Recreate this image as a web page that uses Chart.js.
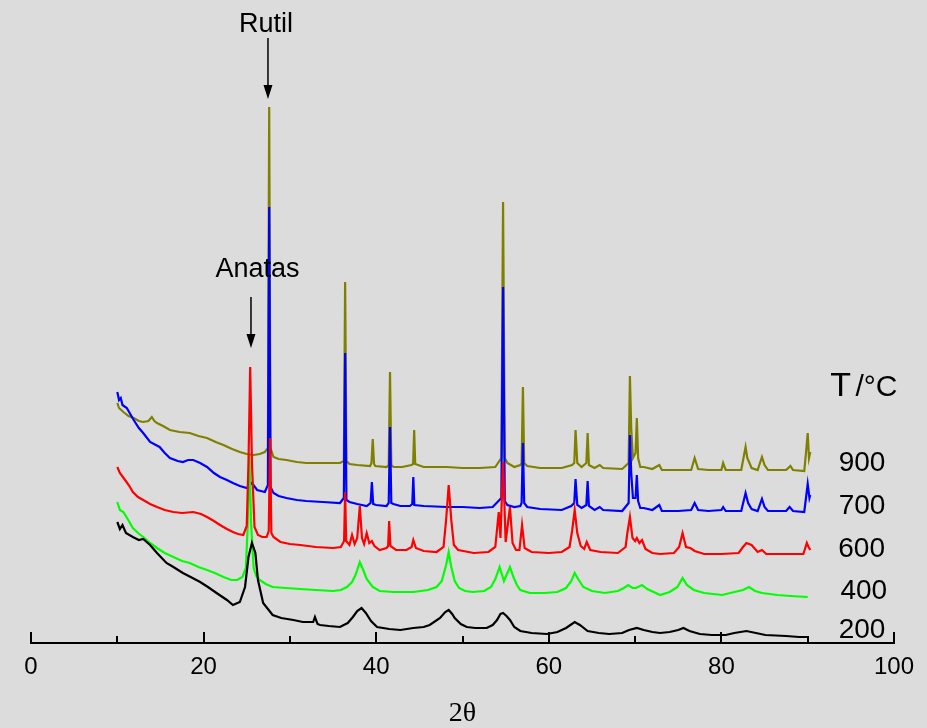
<!DOCTYPE html>
<html>
<head>
<meta charset="utf-8">
<title>XRD TiO2</title>
<script src="https://cdn.jsdelivr.net/npm/chart.js@4.4.0/dist/chart.umd.min.js"></script>
<style>
  html, body { margin: 0; padding: 0; background: #dcdcdc; }
  #wrap { width: 927px; height: 728px; }
</style>
</head>
<body>
<div id="wrap"><canvas id="xrd"></canvas></div>
<script>
// [2theta, intensity], one array per calcination temperature
var s200 = [[10.0,121],[10.3,114],[10.6,118],[11.0,110],[11.8,106],[12.5,103],[13.0,104],[13.8,98],[14.6,90],[15.7,80],[16.5,76],[17.6,70],[18.5,66],[19.6,61],[20.5,56],[21.5,50],[22.7,43],[23.4,38],[24.2,41],[24.8,56],[25.2,86],[25.6,100],[26.0,90],[26.3,63],[26.9,40],[28.0,28],[29.0,25],[30.4,23],[31.5,21],[32.7,21],[32.9,26],[33.2,19],[33.5,18],[34.5,17],[35.8,16],[36.7,20],[37.3,26],[37.8,32],[38.3,35],[38.8,30],[39.4,22],[40.1,16],[41.5,14],[42.8,13],[44.3,15],[45.5,16],[46.2,18],[47.4,25],[48.0,31],[48.4,33],[48.8,29],[49.1,25],[49.8,19],[50.5,16],[51.5,15],[52.8,15],[53.5,18],[54.0,23],[54.4,29],[54.7,30],[55.1,27],[55.5,23],[56.0,16],[56.7,12],[58.0,10],[59.8,9],[61.0,11],[62.0,15],[63.0,21],[63.6,18],[64.5,12],[65.8,10],[67.0,9],[68.5,10],[69.3,13],[70.2,15],[71.0,13],[72.0,11],[72.9,10],[74.0,11],[75.0,13],[75.6,15],[76.3,12],[77.5,9],[78.9,8],[80.5,8],[81.5,10],[82.9,12],[84.0,10],[85.1,8],[87.5,7],[89.0,6],[90.0,6]];

var s400 = [[10.0,141],[10.3,133],[10.7,131],[11.2,124],[11.8,115],[12.4,110],[13.0,106],[13.8,100],[14.6,95],[15.5,90],[16.5,86],[17.5,82],[18.4,80],[19.4,76],[20.4,73],[21.3,70],[22.3,66],[23.2,63],[23.9,63],[24.5,66],[24.9,75],[25.1,115],[25.3,188],[25.5,120],[25.8,75],[26.1,67],[26.5,63],[27.2,59],[28.0,56],[29.5,55],[31.2,54],[33.0,53],[35.0,52],[35.9,53],[36.6,56],[37.2,61],[37.6,68],[38.1,81],[38.5,73],[38.9,64],[39.6,56],[40.4,52],[42.0,51],[44.3,51],[46.0,53],[47.0,56],[47.6,62],[48.1,78],[48.4,91],[48.7,76],[49.1,62],[49.6,55],[50.3,52],[51.2,51],[52.5,52],[53.3,56],[53.8,64],[54.3,76],[54.8,62],[55.1,68],[55.5,76],[55.9,66],[56.3,58],[56.7,53],[57.8,50],[59.5,50],[61.0,51],[62.0,55],[62.6,62],[63.0,70],[63.4,64],[64.0,56],[65.0,52],[66.5,50],[68.0,52],[68.7,55],[69.2,58],[69.7,55],[70.1,55],[70.8,58],[71.4,54],[72.9,48],[74.0,51],[74.9,56],[75.5,65],[76.0,58],[76.8,53],[78.0,50],[80.1,48],[81.5,51],[82.5,53],[83.2,56],[83.9,52],[84.7,50],[86.5,48],[88.0,47],[90.0,46]];

var s600 = [[10.0,176],[10.3,170],[10.9,163],[11.4,157],[11.8,151],[12.4,146],[13.0,143],[13.8,139],[14.6,136],[15.5,133],[16.5,131],[17.5,130],[18.8,131],[19.7,129],[20.4,126],[21.2,122],[21.9,118],[22.7,114],[23.4,111],[24.0,109],[24.6,108],[25.0,117],[25.2,180],[25.4,276],[25.6,180],[25.9,116],[26.3,108],[26.8,106],[27.3,106],[27.55,112],[27.7,205],[27.85,110],[28.1,106],[28.9,101],[30.0,99],[31.2,98],[33.0,96],[35.0,95],[35.9,96],[36.28,102],[36.4,151],[36.52,102],[36.9,98],[37.2,108],[37.5,99],[37.8,105],[38.1,137],[38.35,105],[38.6,99],[38.9,110],[39.2,100],[39.5,102],[39.8,97],[40.4,93],[41.2,95],[41.38,97],[41.5,122],[41.65,97],[42.3,93],[43.5,93],[44.1,96],[44.3,103],[44.6,95],[45.5,92],[47.0,91],[47.8,96],[48.1,123],[48.4,158],[48.7,123],[49.0,98],[49.5,93],[51.3,90],[53.0,91],[53.8,96],[54.2,131],[54.4,105],[54.7,181],[55.0,101],[55.5,136],[55.8,100],[56.2,93],[56.6,93],[56.9,118],[57.2,95],[58.0,91],[60.0,90],[61.5,91],[62.4,96],[62.7,112],[63.0,133],[63.3,110],[63.7,97],[64.1,94],[64.4,101],[64.8,93],[66.0,91],[68.0,90],[68.9,96],[69.1,110],[69.4,126],[69.7,105],[70.0,102],[70.2,105],[70.5,100],[70.8,103],[71.2,94],[72.0,90],[72.9,89],[74.5,90],[75.1,96],[75.5,110],[75.9,96],[76.4,95],[76.9,92],[78.0,89],[80.0,89],[82.0,90],[82.5,96],[82.9,100],[83.5,98],[84.2,91],[84.7,93],[85.2,89],[87.5,89],[89.5,89],[89.9,100],[90.1,96],[90.3,93]];

var s700 = [[10.0,251],[10.2,243],[10.4,245],[10.6,238],[11.1,235],[11.9,223],[12.5,215],[13.0,210],[13.8,201],[14.9,196],[15.5,190],[16.1,185],[17.0,182],[17.6,181],[18.2,183],[18.8,183],[19.6,180],[20.4,176],[21.2,170],[21.9,166],[22.7,163],[23.4,160],[24.2,157],[25.0,155],[25.6,160],[26.2,153],[27.1,151],[27.45,158],[27.6,436],[27.75,156],[28.1,150],[28.7,147],[29.6,145],[30.8,143],[31.9,142],[33.8,141],[35.8,140],[36.25,145],[36.4,290],[36.55,143],[36.9,141],[37.8,139],[38.9,137],[39.35,140],[39.5,161],[39.65,139],[40.0,138],[41.2,137],[41.45,140],[41.6,216],[41.75,140],[42.0,139],[42.8,137],[43.9,137],[44.18,139],[44.3,166],[44.42,138],[45.5,137],[48.2,136],[50.0,136],[52.0,135],[53.5,136],[54.5,145],[54.7,356],[54.9,142],[55.2,138],[56.0,136],[56.7,137],[56.85,140],[57.0,200],[57.15,140],[57.5,136],[59.0,134],[61.5,133],[62.6,137],[62.95,140],[63.1,164],[63.3,138],[63.8,135],[64.35,138],[64.5,162],[64.65,137],[65.3,133],[65.9,136],[66.3,133],[68.5,132],[69.25,140],[69.4,208],[69.55,170],[69.75,145],[70.05,145],[70.2,168],[70.35,142],[70.6,135],[71.0,135],[72.0,133],[72.8,138],[73.1,132],[75.0,132],[76.5,133],[76.9,140],[77.3,133],[78.5,132],[80.0,133],[80.2,136],[80.5,132],[82.3,132],[82.8,150],[83.1,140],[83.5,134],[84.2,132],[84.7,144],[85.0,136],[85.4,132],[87.5,132],[87.9,136],[88.3,132],[89.6,131],[89.8,145],[90.0,159],[90.2,145],[90.3,148]];

var s900 = [[10.0,240],[10.2,235],[10.7,231],[11.3,227],[11.9,225],[12.5,222],[13.0,221],[13.6,222],[14.0,226],[14.3,222],[14.6,220],[15.3,217],[16.1,213],[17.2,211],[18.4,210],[19.4,207],[20.4,205],[21.4,201],[22.3,198],[23.3,194],[24.2,191],[25.0,189],[25.8,188],[26.5,189],[27.1,191],[27.45,195],[27.6,536],[27.75,195],[28.1,186],[28.7,184],[29.6,183],[30.8,181],[31.9,180],[33.8,180],[35.8,180],[36.25,182],[36.4,361],[36.55,182],[36.9,179],[37.8,178],[39.3,177],[39.45,180],[39.6,204],[39.75,179],[39.9,177],[41.2,176],[41.45,178],[41.6,271],[41.75,178],[42.0,176],[43.0,176],[44.1,178],[44.28,179],[44.4,213],[44.52,179],[45.5,176],[48.2,176],[50.0,175],[52.0,175],[53.8,176],[54.5,185],[54.7,441],[54.9,185],[55.2,180],[56.0,176],[56.7,178],[56.85,180],[57.0,256],[57.15,180],[57.5,177],[59.0,175],[61.5,175],[62.7,178],[62.95,180],[63.1,213],[63.3,180],[63.8,176],[64.35,180],[64.5,210],[64.65,178],[65.3,175],[65.9,178],[66.3,175],[68.5,174],[69.25,180],[69.4,267],[69.55,215],[69.75,185],[70.05,190],[70.2,225],[70.35,185],[70.6,176],[71.0,176],[72.0,174],[72.8,178],[73.1,173],[75.0,173],[76.5,173],[76.9,185],[77.3,174],[78.5,173],[80.0,173],[80.2,180],[80.5,173],[82.3,173],[82.8,196],[83.0,185],[83.5,175],[84.2,173],[84.7,186],[85.0,178],[85.4,173],[87.5,173],[88.0,177],[88.3,173],[89.6,172],[89.8,190],[90.0,210],[90.15,185],[90.3,191]];

var temps = ['200', '400', '600', '700', '900'];
var xTicks = [0, 20, 40, 60, 80, 100];

function pts(arr) {
  return arr.map(function(p){ return {x: p[0], y: p[1]}; });
}

// drawn first = bottom, so olive goes last in the list
var traces = [
  {label: temps[2], data: pts(s600), borderColor: '#ff0000'},
  {label: temps[0], data: pts(s200), borderColor: '#000000'},
  {label: temps[1], data: pts(s400), borderColor: '#00ff00'},
  {label: temps[3], data: pts(s700), borderColor: '#0000ff'},
  {label: temps[4], data: pts(s900), borderColor: '#808000'}
];
traces.forEach(function(d){
  d.borderWidth = 2.2;
  d.pointRadius = 0;
  d.tension = 0;
  d.fill = false;
});

function arrowDown(ctx, x, yTop, yTip) {
  ctx.beginPath();
  ctx.moveTo(x, yTop);
  ctx.lineTo(x, yTip - 12);
  ctx.stroke();
  ctx.beginPath();
  ctx.moveTo(x - 4.5, yTip - 14);
  ctx.lineTo(x + 4.5, yTip - 14);
  ctx.lineTo(x, yTip);
  ctx.closePath();
  ctx.fill();
}

var overlay = {
  id: 'overlay',
  beforeDraw: function(chart) {
    var ctx = chart.ctx;
    ctx.save();
    ctx.fillStyle = '#dcdcdc';
    ctx.fillRect(0, 0, chart.width, chart.height);
    ctx.restore();
  },
  afterDraw: function(chart) {
    var ctx = chart.ctx;
    var xs = chart.scales.x, ys = chart.scales.y;
    var X = function(v){ return xs.getPixelForValue(v); };
    var Y = function(v){ return ys.getPixelForValue(v); };
    ctx.save();
    ctx.strokeStyle = '#000';
    ctx.fillStyle = '#000';
    ctx.lineWidth = 2;
    // ticks point up into the plot
    for (var v = 0; v <= 100; v += 10) {
      var px = Math.round(X(v));
      ctx.beginPath();
      ctx.moveTo(px, ys.bottom);
      ctx.lineTo(px, ys.bottom - (v % 20 === 0 ? 11 : 7));
      ctx.stroke();
    }
    ctx.lineWidth = 1.5;
    arrowDown(ctx, X(27.46), Y(605), Y(544));
    arrowDown(ctx, X(25.49), Y(346), Y(295));

    ctx.textBaseline = 'alphabetic';
    ctx.textAlign = 'center';
    ctx.font = '27px "Liberation Sans", Arial, sans-serif';
    ctx.fillText('Rutil', X(27.23), Y(611));
    ctx.fillText('Anatas', X(26.25), Y(366));

    ctx.font = '28px "Liberation Sans", Arial, sans-serif';
    ctx.fillText(temps[4], X(96.3), Y(172));
    ctx.fillText(temps[3], X(96.3), Y(129));
    ctx.fillText(temps[2], X(96.25), Y(86));
    ctx.fillText(temps[1], X(96.5), Y(44));
    ctx.fillText(temps[0], X(96.3), Y(5));

    ctx.textAlign = 'left';
    ctx.font = '34px "Liberation Sans", Arial, sans-serif';
    ctx.fillText('T', X(92.6), Y(247));
    ctx.textAlign = 'right';
    ctx.font = '30px "Liberation Sans", Arial, sans-serif';
    ctx.fillText('/°C', X(100.4), Y(247));
    ctx.restore();
  }
};

new Chart(document.getElementById('xrd'), {
  type: 'line',
  data: {datasets: traces},
  options: {
    responsive: true,
    maintainAspectRatio: false,
    animation: false,
    layout: {padding: {left: 31, right: 33, top: 0, bottom: 0}},
    plugins: {legend: {display: false}, tooltip: {enabled: false}},
    scales: {
      x: {
        type: 'linear',
        min: 0,
        max: 100,
        afterFit: function(s){ s.height = 85; },
        afterBuildTicks: function(s){ s.ticks = xTicks.map(function(v){ return {value: v}; }); },
        grid: {display: false, drawTicks: false},
        border: {display: true, color: '#000', width: 2},
        ticks: {
          color: '#000',
          padding: 10,
          maxRotation: 0,
          autoSkip: false,
          font: {family: '"Liberation Sans", Arial, sans-serif', size: 24}
        },
        title: {
          display: true,
          text: '2θ',
          color: '#000',
          padding: 0,
          font: {family: '"Liberation Serif", "Times New Roman", serif', size: 28, lineHeight: 1}
        }
      },
      y: {type: 'linear', display: false, min: 0, max: 643}
    }
  },
  plugins: [overlay]
});
</script>
</body>
</html>
